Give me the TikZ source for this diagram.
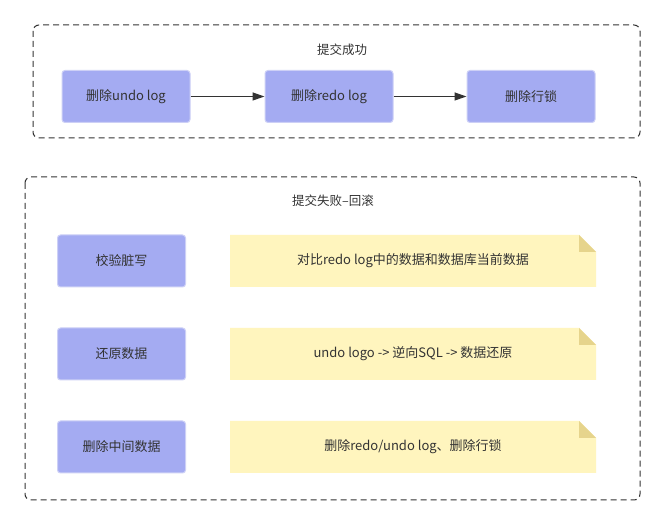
\documentclass[tikz,border=0pt]{standalone}
\usepackage{fontspec}
\setmainfont{Noto Sans CJK SC}
\usetikzlibrary{arrows.meta,calc}
\definecolor{boxfill}{RGB}{164,171,242}
\definecolor{boxline}{RGB}{205,208,246}
\definecolor{notefill}{RGB}{255,245,190}
\definecolor{notefold}{RGB}{230,212,140}
\definecolor{txt}{RGB}{51,51,51}
\definecolor{dash}{RGB}{51,51,51}
\begin{document}
\begin{tikzpicture}[x=1pt,y=-1pt,
  every node/.style={font=\fontsize{13}{15}\selectfont, text=txt},
  group/.style={draw=dash, line width=1pt, dash pattern=on 6pt off 4pt, rounded corners=6pt},
  titletext/.style={font=\fontsize{12.5}{14}\selectfont},
  stepbox/.style={rectangle, rounded corners=3pt, fill=boxfill, draw=boxline, line width=1pt, minimum width=128pt, minimum height=52pt, inner sep=0pt},
  notebox/.style={rectangle, minimum width=366pt, minimum height=52pt, inner sep=0pt},
  flow/.style={draw=txt, line width=1.3pt, -{Triangle[length=12pt,width=8pt]}}
]
\useasboundingbox (0,0) rectangle (665,526);
\fill[white] (0,0) rectangle (665,526);

% groups
\draw[group] (33,25) rectangle (640,138);
\draw[group] (25,177) rectangle (640,500);
\node[titletext] (t1) at (342,50) {提交成功};
\node[titletext] (t2) at (333,201) {提交失败–回滚};

% top row
\node[stepbox] (a) at (126,96.5) {删除undo log};
\node[stepbox] (b) at (329,96.5) {删除redo log};
\node[stepbox] (c) at (531,96.5) {删除行锁};
\draw[flow] (a) -- (b);
\draw[flow] (b) -- (c);

% left column
\node[stepbox] (l1) at (121.5,261) {校验脏写};
\node[stepbox] (l2) at (121.5,354) {还原数据};
\node[stepbox] (l3) at (121.5,447) {删除中间数据};

% notes
\foreach \n/\y in {n1/261,n2/354,n3/447}{
  \path (413,\y) coordinate (\n c);
  \fill[notefill] ($(\n c)+(-183,-26)$) -- ($(\n c)+(166,-26)$) -- ($(\n c)+(183,-9)$) -- ($(\n c)+(183,26)$) -- ($(\n c)+(-183,26)$) -- cycle;
  \fill[notefold] ($(\n c)+(166,-26)$) -- ($(\n c)+(183,-9)$) -- ($(\n c)+(166,-9)$) -- cycle;
}
\node[notebox] (n1) at (n1c) {对比redo log中的数据和数据库当前数据};
\node[notebox] (n2) at (n2c) {undo logo -> 逆向SQL -> 数据还原};
\node[notebox] (n3) at (n3c) {删除redo/undo log、删除行锁};
\end{tikzpicture}
\end{document}
